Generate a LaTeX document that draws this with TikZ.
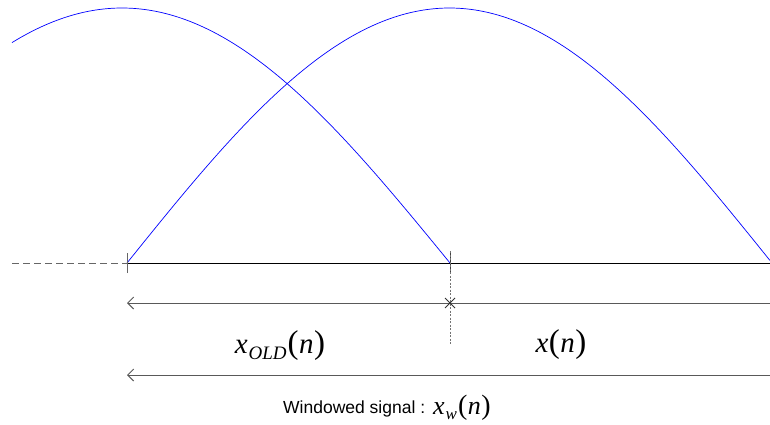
\documentclass[tikz,border=0pt]{standalone}
\usepackage{fontspec}
\setmainfont{Liberation Serif}
\newfontfamily\arialfont{Liberation Sans}
\usetikzlibrary{arrows.meta}
\newcommand{\bigpar}[1]{{\fontsize{33}{33}\selectfont\upshape(}\kern0.5pt{\itshape #1}\kern0.5pt{\fontsize{33}{33}\selectfont\upshape)}}
\newcommand{\medpar}[1]{{\fontsize{28}{28}\selectfont\upshape(}\kern0.5pt{\itshape #1}\kern0.5pt{\fontsize{28}{28}\selectfont\upshape)}}
\tikzset{
  win/.style={blue, line width=0.7pt},
  axis/.style={black, line width=0.9pt},
  dim/.style={draw=black!65, line width=1pt, {Straight Barb[length=6pt,width=12pt]}-},
  guide/.style={black!60, dash pattern=on 7pt off 4pt, line width=1pt},
  vguide/.style={black!55, dash pattern=on 2pt off 1.5pt, line width=1pt},
  tick/.style={black!60, line width=1pt},
  lbl/.style={inner sep=0pt, font=\fontsize{29}{29}\selectfont\itshape},
}
\begin{document}
\begin{tikzpicture}[x=1pt,y=-1pt]
\useasboundingbox (0,0) rectangle (770,425);
% named points
\coordinate (L) at (127,263);
\coordinate (M) at (450,263);
\coordinate (R) at (772,263);
\coordinate (Lfar) at (12,263);
\coordinate (A1L) at (127,303);
\coordinate (A1R) at (770,303);
\coordinate (A2L) at (127,375);
\coordinate (A2R) at (770,375);
\coordinate (X) at (450,303);
\coordinate (Mbot) at (450,345);
% windows
\draw[win] plot[domain=12:450, samples=120, smooth] (\x, {263-255*sin(0.274390*(\x+206))});
\draw[win] plot[domain=127:770, samples=160, smooth] (\x, {263-255*sin(0.279070*(\x-127))});
% axis
\draw[guide] (Lfar) -- (L);
\draw[axis] (L) -- (R);
\draw[tick] ([yshift=-10pt]L) -- ([yshift=10pt]L);
\draw[black!75, line width=1pt] ([yshift=-10pt]M) -- ([yshift=12pt]M);
\draw[vguide] ([yshift=12pt]M) -- (Mbot);
% dimension arrows
\draw[dim] (A1L) -- (A1R);
\draw[dim] (A2L) -- (A2R);
\draw[black!80, line width=0.9pt] ([shift={(-5pt,-5pt)}]X) -- ([shift={(5pt,5pt)}]X)
  ([shift={(-5pt,5pt)}]X) -- ([shift={(5pt,-5pt)}]X);
% labels
\node[lbl] (xold) at (280,346) {x\kern1pt\raisebox{-6pt}{\fontsize{19}{19}\selectfont OLD}\kern1pt\bigpar{n}};
\node[lbl] (xn) at (561,345) {x\kern0.5pt\bigpar{n}};
\node[inner sep=0pt, anchor=base west] (ws) at (283,413) {\arialfont\fontsize{17.5}{17.5}\selectfont Windowed signal :};
\node[inner sep=0pt, anchor=base west, font=\fontsize{26}{26}\selectfont\itshape] (xw) at (433,414) {x\kern1pt\raisebox{-5pt}{\fontsize{17}{17}\selectfont w}\kern1pt\medpar{n}};
\end{tikzpicture}
\end{document}
